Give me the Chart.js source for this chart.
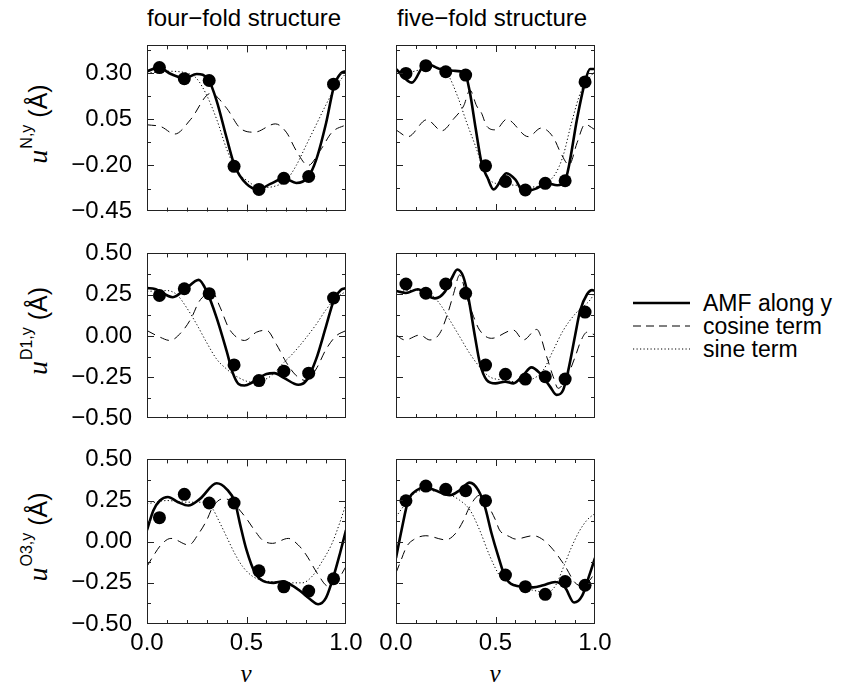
<!DOCTYPE html>
<html><head><meta charset="utf-8">
<script src="https://cdn.jsdelivr.net/npm/chart.js@4.4.1/dist/chart.umd.min.js"></script>
<style>
html,body{margin:0;padding:0;background:#fff;}
#wrap{position:relative;width:843px;height:691px;overflow:hidden;background:#fff;font-family:'Liberation Sans',Arial,sans-serif;color:#000;}
canvas{position:absolute;}
.t{position:absolute;white-space:nowrap;line-height:1;}
.title{font-size:24px;}
.ytitle{font-size:25px;transform:translate(-50%,-50%) rotate(-90deg);}
.ytitle i{font-family:'Liberation Serif','Times New Roman',serif;font-size:28px;}
.ytitle .sup{font-size:16px;position:relative;top:-15px;margin-left:1px;}
.xtitle{font-family:'Liberation Serif','Times New Roman',serif;font-style:italic;font-size:25px;transform:translate(-50%,-50%);}
.leg{position:absolute;left:633px;width:220px;height:24px;}
.leg svg{position:absolute;left:0;top:0;}
.leg span{position:absolute;left:70px;top:0;font-size:23px;line-height:24px;white-space:nowrap;}
</style></head>
<body><div id="wrap">
<div class="t title" style="left:147px;top:6px">four−fold structure</div>
<div class="t title" style="left:397px;top:6px">five−fold structure</div>
<div class="t ytitle" style="left:38px;top:124px"><i>u</i><span class="sup">N,y</span> (Å)</div>
<div class="t ytitle" style="left:38px;top:331px"><i>u</i><span class="sup">D1,y</span> (Å)</div>
<div class="t ytitle" style="left:38px;top:537px"><i>u</i><span class="sup">O3,y</span> (Å)</div>
<div class="t xtitle" style="left:246px;top:673px">v</div>
<div class="t xtitle" style="left:495px;top:673px">v</div>
<div class="leg" style="top:291px"><svg width="60" height="24"><line x1="0" y1="12" x2="57" y2="12" stroke="#000" stroke-width="2.6"/></svg><span>AMF along y</span></div>
<div class="leg" style="top:314px"><svg width="60" height="24"><line x1="0" y1="12" x2="57" y2="12" stroke="#000" stroke-width="1" stroke-dasharray="8 5"/></svg><span>cosine term</span></div>
<div class="leg" style="top:337px"><svg width="60" height="24"><line x1="0" y1="12" x2="57" y2="12" stroke="#000" stroke-width="1" stroke-dasharray="1.2 2.3"/></svg><span>sine term</span></div>
</div>
<script>
// ---------- data ----------
const fourV = [0.0625,0.1875,0.3125,0.4375,0.5625,0.6875,0.8125,0.9375];
const fiveV = [0.05,0.15,0.25,0.35,0.45,0.55,0.65,0.75,0.85,0.95];

const xLabelTicks = [0, 0.5, 1];
const xMinorTicks = [0.1,0.2,0.3,0.4,0.6,0.7,0.8,0.9];
const yLabelsN = [-0.45,-0.2,0.05,0.3];
const yMinorN = [-0.325,-0.075,0.175,0.425];
const yLabelsDO = [-0.5,-0.25,0,0.25,0.5];
const yMinorDO = [-0.375,-0.125,0.125,0.375];

// four-fold, N
const fourN_dots = [0.33,0.27,0.26,-0.205,-0.33,-0.27,-0.26,0.24];
const fourN_amf = [[0,0.31],[0.06,0.33],[0.12,0.295],[0.19,0.272],[0.25,0.295],[0.31,0.262],[0.35,0.15],[0.4,-0.05],[0.44,-0.2],[0.5,-0.30],[0.56,-0.33],[0.62,-0.30],[0.69,-0.27],[0.75,-0.295],[0.81,-0.262],[0.85,-0.17],[0.9,0.03],[0.94,0.23],[0.975,0.30],[1.0,0.31]];
const fourN_cos = [[0,0.02],[0.07,0.01],[0.14,-0.03],[0.22,0.05],[0.32,0.19],[0.4,0.11],[0.47,0.0],[0.54,-0.02],[0.645,0.025],[0.7,-0.02],[0.75,-0.12],[0.81,-0.2],[0.87,-0.12],[0.93,-0.02],[1.0,0.02]];
const fourN_sin = [[0,0.30],[0.1,0.31],[0.2,0.30],[0.25,0.27],[0.3,0.18],[0.35,0.05],[0.4,-0.11],[0.45,-0.23],[0.5,-0.28],[0.57,-0.32],[0.65,-0.31],[0.7,-0.28],[0.75,-0.2],[0.8,-0.09],[0.85,0.02],[0.9,0.13],[0.95,0.23],[1.0,0.30]];

// five-fold, N
const fiveN_dots = [0.296,0.338,0.305,0.287,-0.205,-0.29,-0.336,-0.30,-0.286,0.25];
const fiveN_amf = [[0,0.32],[0.08,0.246],[0.15,0.35],[0.22,0.32],[0.29,0.31],[0.345,0.30],[0.37,0.2],[0.4,0.0],[0.43,-0.19],[0.46,-0.27],[0.49,-0.333],[0.555,-0.245],[0.6,-0.28],[0.64,-0.345],[0.7,-0.33],[0.76,-0.30],[0.81,-0.31],[0.85,-0.285],[0.87,-0.2],[0.91,0.05],[0.95,0.25],[0.975,0.32],[1.0,0.32]];
const fiveN_cos = [[0,-0.01],[0.06,-0.047],[0.155,0.045],[0.23,-0.015],[0.29,0.05],[0.34,0.12],[0.372,0.205],[0.405,0.12],[0.43,0.08],[0.456,0.01],[0.5,-0.01],[0.556,0.047],[0.665,-0.047],[0.73,0.0],[0.79,-0.05],[0.83,-0.14],[0.87,-0.2],[0.91,-0.08],[0.95,0.02],[1.0,-0.01]];
const fiveN_sin = [[0,0.31],[0.05,0.30],[0.12,0.315],[0.2,0.33],[0.26,0.29],[0.31,0.17],[0.355,0.03],[0.4,-0.1],[0.45,-0.25],[0.5,-0.30],[0.6,-0.31],[0.68,-0.32],[0.75,-0.30],[0.8,-0.25],[0.84,-0.15],[0.88,0.02],[0.93,0.2],[1.0,0.31]];

// four-fold, D1
const fourD_dots = [0.245,0.286,0.256,-0.175,-0.27,-0.213,-0.225,0.23];
const fourD_amf = [[0,0.29],[0.04,0.285],[0.13,0.235],[0.19,0.28],[0.26,0.34],[0.3,0.27],[0.35,0.11],[0.4,-0.09],[0.43,-0.22],[0.46,-0.29],[0.49,-0.30],[0.53,-0.28],[0.6,-0.23],[0.64,-0.225],[0.69,-0.255],[0.76,-0.295],[0.8,-0.27],[0.85,-0.14],[0.9,0.06],[0.94,0.22],[0.975,0.28],[1.0,0.29]];
const fourD_cos = [[0,0.033],[0.065,-0.007],[0.115,-0.027],[0.18,0.033],[0.225,0.114],[0.26,0.205],[0.3,0.256],[0.325,0.27],[0.367,0.175],[0.41,0.05],[0.45,-0.007],[0.49,-0.027],[0.55,0.023],[0.6,0.035],[0.65,-0.05],[0.7,-0.16],[0.75,-0.24],[0.8,-0.27],[0.85,-0.2],[0.9,-0.08],[0.95,0.0],[1.0,0.033]];
const fourD_sin = [[0,0.27],[0.1,0.275],[0.15,0.25],[0.2,0.17],[0.25,0.07],[0.3,-0.04],[0.35,-0.14],[0.4,-0.2],[0.45,-0.245],[0.53,-0.28],[0.58,-0.27],[0.63,-0.235],[0.68,-0.17],[0.73,-0.11],[0.78,-0.04],[0.85,0.07],[0.9,0.16],[0.95,0.23],[1.0,0.27]];

// five-fold, D1
const fiveD_dots = [0.312,0.256,0.312,0.256,-0.179,-0.235,-0.264,-0.25,-0.264,0.142];
const fiveD_amf = [[0,0.27],[0.05,0.258],[0.11,0.28],[0.154,0.245],[0.196,0.225],[0.246,0.266],[0.28,0.347],[0.308,0.40],[0.338,0.357],[0.363,0.235],[0.397,-0.007],[0.422,-0.17],[0.456,-0.27],[0.5,-0.29],[0.548,-0.28],[0.59,-0.29],[0.64,-0.24],[0.68,-0.193],[0.724,-0.23],[0.774,-0.31],[0.807,-0.36],[0.84,-0.33],[0.866,-0.21],[0.9,0.0],[0.925,0.15],[0.96,0.25],[0.985,0.275],[1.0,0.27]];
const fiveD_cos = [[0,0.003],[0.045,-0.027],[0.12,0.003],[0.17,-0.027],[0.22,0.013],[0.26,0.134],[0.29,0.256],[0.32,0.367],[0.355,0.235],[0.39,0.114],[0.42,0.033],[0.48,-0.017],[0.59,0.033],[0.64,-0.027],[0.707,0.037],[0.757,-0.128],[0.79,-0.25],[0.815,-0.32],[0.86,-0.25],[0.9,-0.13],[0.93,-0.03],[0.96,0.02],[1.0,0.003]];
const fiveD_sin = [[0,0.265],[0.1,0.275],[0.15,0.27],[0.19,0.235],[0.23,0.175],[0.27,0.094],[0.32,-0.007],[0.37,-0.108],[0.42,-0.19],[0.47,-0.25],[0.54,-0.27],[0.606,-0.28],[0.673,-0.27],[0.74,-0.21],[0.79,-0.09],[0.84,0.03],[0.9,0.13],[0.975,0.215],[1.0,0.26]];

// four-fold, O3
const fourO_dots = [0.146,0.288,0.235,0.235,-0.177,-0.274,-0.30,-0.225];
const fourO_amf = [[0,0.07],[0.032,0.19],[0.065,0.25],[0.105,0.272],[0.157,0.24],[0.208,0.22],[0.266,0.26],[0.35,0.355],[0.4,0.32],[0.442,0.24],[0.467,0.11],[0.5,-0.05],[0.543,-0.19],[0.585,-0.24],[0.635,-0.25],[0.685,-0.24],[0.735,-0.27],[0.77,-0.30],[0.82,-0.35],[0.86,-0.38],[0.9,-0.34],[0.94,-0.2],[0.97,-0.07],[1.0,0.07]];
const fourO_cos = [[0,-0.15],[0.03,-0.09],[0.07,-0.02],[0.12,0.02],[0.21,-0.02],[0.26,0.05],[0.3,0.13],[0.33,0.21],[0.38,0.26],[0.42,0.25],[0.46,0.2],[0.5,0.14],[0.54,0.07],[0.58,0.01],[0.63,-0.01],[0.71,0.02],[0.76,-0.02],[0.8,-0.08],[0.86,-0.2],[0.91,-0.27],[0.96,-0.23],[1.0,-0.15]];
const fourO_sin = [[0,0.23],[0.1,0.25],[0.2,0.24],[0.3,0.24],[0.33,0.2],[0.36,0.13],[0.4,0.03],[0.44,-0.07],[0.48,-0.15],[0.53,-0.21],[0.58,-0.235],[0.65,-0.245],[0.72,-0.25],[0.78,-0.25],[0.83,-0.21],[0.88,-0.12],[0.93,-0.01],[0.97,0.12],[1.0,0.23]];

// five-fold, O3
const fiveO_dots = [0.247,0.336,0.316,0.308,0.247,-0.203,-0.274,-0.32,-0.243,-0.265];
const fiveO_amf = [[0,-0.1],[0.028,0.07],[0.062,0.25],[0.104,0.31],[0.146,0.33],[0.196,0.31],[0.27,0.28],[0.32,0.31],[0.37,0.357],[0.414,0.31],[0.447,0.21],[0.48,0.05],[0.514,-0.09],[0.548,-0.213],[0.59,-0.264],[0.69,-0.278],[0.74,-0.265],[0.8,-0.245],[0.85,-0.28],[0.895,-0.37],[0.935,-0.33],[0.97,-0.21],[1.0,-0.1]];
const fiveO_cos = [[0,-0.19],[0.02,-0.13],[0.054,-0.03],[0.087,0.01],[0.15,0.035],[0.25,0.01],[0.3,0.05],[0.34,0.13],[0.37,0.21],[0.42,0.28],[0.456,0.23],[0.5,0.13],[0.52,0.07],[0.57,0.03],[0.6,0.015],[0.69,0.035],[0.74,0.01],[0.79,-0.05],[0.85,-0.15],[0.9,-0.25],[0.94,-0.27],[0.97,-0.24],[1.0,-0.19]];
const fiveO_sin = [[0,0.15],[0.03,0.2],[0.06,0.25],[0.09,0.29],[0.137,0.31],[0.255,0.29],[0.32,0.25],[0.372,0.19],[0.42,0.07],[0.472,-0.09],[0.523,-0.21],[0.573,-0.25],[0.64,-0.28],[0.707,-0.30],[0.757,-0.31],[0.8,-0.27],[0.85,-0.13],[0.88,-0.04],[0.92,0.06],[0.96,0.13],[1.0,0.17]];

// ---------- layout ----------
const COLS = [{l:147, r:346, lm:107}, {l:396, r:595, lm:25}];
const ROWS = [{t:45, b:211, min:-0.45, max:0.45, lab:yLabelsN, minor:yMinorN},
              {t:253, b:418, min:-0.5, max:0.5, lab:yLabelsDO, minor:yMinorDO},
              {t:459, b:624, min:-0.5, max:0.5, lab:yLabelsDO, minor:yMinorDO}];
const panels = [
  {c:0,r:0,v:fourV,dots:fourN_dots,amf:fourN_amf,cos:fourN_cos,sin:fourN_sin},
  {c:1,r:0,v:fiveV,dots:fiveN_dots,amf:fiveN_amf,cos:fiveN_cos,sin:fiveN_sin},
  {c:0,r:1,v:fourV,dots:fourD_dots,amf:fourD_amf,cos:fourD_cos,sin:fourD_sin},
  {c:1,r:1,v:fiveV,dots:fiveD_dots,amf:fiveD_amf,cos:fiveD_cos,sin:fiveD_sin},
  {c:0,r:2,v:fourV,dots:fourO_dots,amf:fourO_amf,cos:fourO_cos,sin:fourO_sin},
  {c:1,r:2,v:fiveV,dots:fiveO_dots,amf:fiveO_amf,cos:fiveO_cos,sin:fiveO_sin}
];

const FONT = {family:"'Liberation Sans', Arial, sans-serif", size:24};
const minus = v => (v < -1e-9 ? '\u2212' : '') + Math.abs(v).toFixed(2);

const frameTicks = {
  id:'frameTicks',
  afterDatasetsDraw(chart, args, o) {
    const {ctx, chartArea:a, scales:{x, y}} = chart;
    ctx.save();
    ctx.strokeStyle = '#222';
    ctx.lineWidth = 1;
    ctx.strokeRect(Math.round(a.left)+0.5, Math.round(a.top)+0.5, Math.round(a.right-a.left)-1, Math.round(a.bottom-a.top)-1);
    ctx.beginPath();
    const xt = [...o.xMinor.map(v=>[v,4]), [0.5,7]];
    xt.forEach(([v,len]) => {
      const px = Math.round(x.getPixelForValue(v))+0.5;
      ctx.moveTo(px, a.bottom); ctx.lineTo(px, a.bottom-len);
      ctx.moveTo(px, a.top); ctx.lineTo(px, a.top+len);
    });
    const yt = [...o.yMinor.map(v=>[v,4]), ...o.yMajor.map(v=>[v,7])];
    yt.forEach(([v,len]) => {
      if (v <= y.min + 1e-9 || v >= y.max - 1e-9) return;
      const py = Math.round(y.getPixelForValue(v))+0.5;
      ctx.moveTo(a.left, py); ctx.lineTo(a.left+len, py);
      ctx.moveTo(a.right, py); ctx.lineTo(a.right-len, py);
    });
    ctx.stroke();
    ctx.restore();
  }
};

const wrap = document.getElementById('wrap');
const toXY = arr => arr.map(([x, y]) => ({x, y}));

function makeConfig(p, col, row, bottomRow) {
  const xScale = {type:'linear', min:0, max:1, display:bottomRow,
     grid:{display:false, drawTicks:false}, border:{display:false},
     ticks:{padding:5, color:'#000', font:FONT, maxRotation:0, autoSkip:false,
            callback:v=>Number(v).toFixed(1)},
     afterBuildTicks:s=>{s.ticks = xLabelTicks.map(v=>({value:v}));}};
  if (bottomRow) xScale.afterFit = s=>{s.height = 45;};
  return {
    type: 'scatter',
    data: {datasets: [
      {label:'data', data: p.v.map((v,i)=>({x:v, y:p.dots[i]})), showLine:false,
       pointRadius:6.5, pointStyle:'circle', backgroundColor:'#000', borderColor:'#000', borderWidth:0},
      {label:'AMF along y', data: toXY(p.amf), showLine:true, pointRadius:0, borderColor:'#000',
       borderWidth:2.6, cubicInterpolationMode:'monotone', fill:false},
      {label:'cosine term', data: toXY(p.cos), showLine:true, pointRadius:0, borderColor:'#000',
       borderWidth:1, borderDash:[9,6], cubicInterpolationMode:'monotone', fill:false},
      {label:'sine term', data: toXY(p.sin), showLine:true, pointRadius:0, borderColor:'#000',
       borderWidth:1, borderDash:[1.2,2.3], cubicInterpolationMode:'monotone', fill:false}
    ]},
    options: {
      responsive:false, maintainAspectRatio:false, animation:false, devicePixelRatio:1,
      layout:{padding:{left:0, right:25, top:20, bottom:bottomRow ? 2 : 20}},
      plugins:{legend:{display:false}, tooltip:{enabled:false},
        frameTicks:{xMinor:xMinorTicks, yMinor:row.minor, yMajor:row.lab}},
      scales:{
        x: xScale,
        y:{type:'linear', min:row.min, max:row.max, display:true,
           grid:{display:false, drawTicks:false}, border:{display:false},
           ticks:{display:p.c===0, padding:15, color:'#000', font:FONT, autoSkip:false,
                  callback:v=>minus(Number(v))},
           afterBuildTicks:s=>{s.ticks = row.lab.map(v=>({value:v}));},
           afterFit:s=>{s.width = col.lm;}}
      }
    },
    plugins:[frameTicks]
  };
}

panels.forEach(p => {
  const col = COLS[p.c], row = ROWS[p.r];
  const bottomRow = p.r === 2;
  // first pass: measure where the library puts the plot area
  let W = col.lm + (col.r - col.l) + 25;
  let H = 20 + (row.b - row.t) + (bottomRow ? 47 : 20);
  let cv = document.createElement('canvas');
  cv.width = W; cv.height = H;
  cv.style.width = W + 'px'; cv.style.height = H + 'px';
  wrap.appendChild(cv);
  let ch = new Chart(cv, makeConfig(p, col, row, bottomRow));
  const a = ch.chartArea;
  const offL = a.left, offT = a.top, gapR = W - a.right, gapB = H - a.bottom;
  ch.destroy(); cv.remove();
  // second pass: size the canvas so the plot area lands exactly on the panel box
  W = Math.round(offL + (col.r - col.l) + gapR);
  H = Math.round(offT + (row.b - row.t) + gapB);
  cv = document.createElement('canvas');
  cv.width = W; cv.height = H;
  cv.style.width = W + 'px'; cv.style.height = H + 'px';
  cv.style.left = Math.round(col.l - offL) + 'px';
  cv.style.top = Math.round(row.t - offT) + 'px';
  wrap.appendChild(cv);
  new Chart(cv, makeConfig(p, col, row, bottomRow));
});
</script>
</body></html>
